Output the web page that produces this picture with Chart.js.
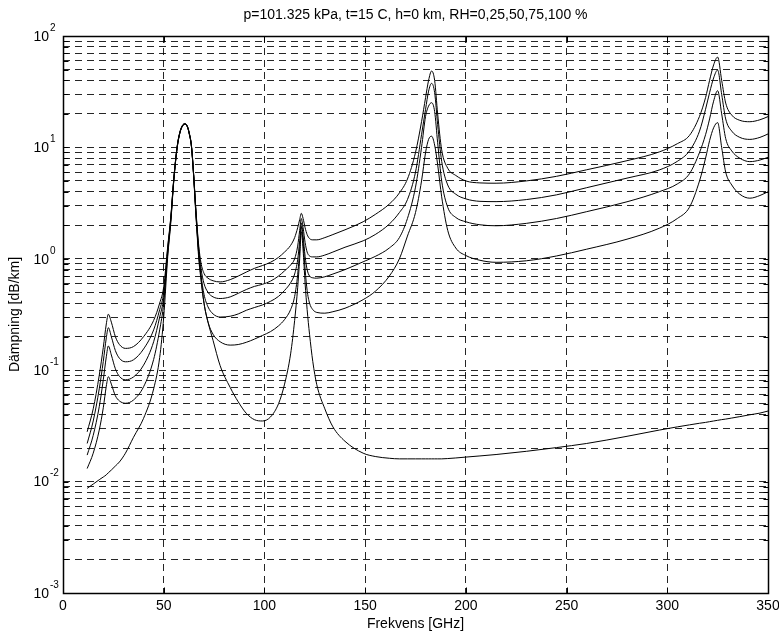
<!DOCTYPE html>
<html><head><meta charset="utf-8">
<script src="https://cdn.jsdelivr.net/npm/chart.js@4.4.1/dist/chart.umd.min.js"></script>
<style>html,body{margin:0;padding:0;background:#fff}#wrap{width:779px;height:633px;position:relative}</style>
</head><body><div id="wrap"><canvas id="c" width="779" height="633"></canvas></div>
<script>
const FONT = "'Liberation Sans', Arial, Helvetica, sans-serif";
const titleText = 'p=101.325 kPa, t=15 C, h=0 km, RH=0,25,50,75,100 %';
const xLabel = 'Frekvens [GHz]';
const yLabel = 'Dämpning [dB/km]';
const xTicks = [0, 50, 100, 150, 200, 250, 300, 350];
const yDecades = [-3, -2, -1, 0, 1, 2];
const seriesNames = ['RH=0 %', 'RH=25 %', 'RH=50 %', 'RH=75 %', 'RH=100 %'];

const freqs = [12,15,18,20,21.5,22.5,24,26,28,31,35,40,45,48,50,
  52,53.5,55,56.7,58,59.3,60.5,61.7,62.6,63.8,65,65.7,66.3,67.4,
  68.5,70,72,74.5,78,83,87,91,95,99,103,107,110,113,115,116.5,117.5,118.3,119.2,120.2,
  121.2,122.4,124,126,130,134,140,149,155,162,167,171,175,178,180,181.5,183,184.5,186,188,
  191,195,200,207,215,230,245,260,280,296,305,311,316,319,321,323,325,327,329,332,336,341,346,350];

const rh0 = [0.0087,0.0095,0.0104,0.011,0.0115,0.012,0.0127,0.0138,0.015,0.018,0.025,0.037,0.068,0.13,0.3,
  1.05,2.1,5.0,10,13.4,15.5,16.1,15.3,13.4,10,5,3,2,1.0,
  0.65,0.4,0.27,0.185,0.11,0.07,0.052,0.041,0.036,0.035,0.038,0.05,0.075,0.14,0.28,0.55,1.0,1.75,1.2,0.6,
  0.35,0.21,0.12,0.074,0.045,0.031,0.023,0.018,0.0168,0.0162,0.016,0.016,0.016,0.016,0.016,0.016,0.016,0.016,0.016,0.016,
  0.0161,0.0163,0.0166,0.017,0.0175,0.0187,0.0202,0.022,0.0255,0.029,0.031,0.0323,0.0334,0.034,0.0345,0.035,0.0355,0.036,0.0364,0.0372,0.0383,0.0398,0.0412,0.043];

const rh25 = [0.0131,0.018,0.029,0.046,0.072,0.0875,0.075,0.059,0.053,0.0505,0.054,0.071,0.125,0.23,0.4,
  1.12,2.18,5.08,10.05,13.45,15.55,16.15,15.35,13.45,10.05,5.08,3.08,2.07,1.08,
  0.68,0.4,0.27,0.21,0.18,0.168,0.17,0.178,0.19,0.205,0.222,0.25,0.285,0.35,0.46,0.72,1.2,1.95,1.4,0.8,
  0.52,0.4,0.35,0.33,0.325,0.335,0.36,0.43,0.51,0.7,1.0,1.6,2.6,5,9,11.8,12.6,10.5,7,3.6,
  1.8,1.25,1.07,0.97,0.93,0.96,1.06,1.22,1.5,1.88,2.3,2.9,5.0,8,11.5,15,16.7,10,6,4.6,3.8,3.5,3.7,4.0];

const rh50 = [0.0173,0.026,0.047,0.082,0.132,0.165,0.137,0.103,0.088,0.082,0.087,0.111,0.18,0.3,0.45,
  1.18,2.25,5.15,10.1,13.5,15.6,16.2,15.4,13.5,10.1,5.15,3.15,2.12,1.14,
  0.72,0.48,0.37,0.32,0.3,0.305,0.32,0.345,0.365,0.385,0.415,0.46,0.52,0.61,0.73,0.98,1.45,2.1,1.6,1.05,
  0.8,0.7,0.675,0.67,0.69,0.73,0.8,0.94,1.05,1.25,1.55,2.3,4.4,10,19,23.5,25.2,21,11,5,
  2.9,2.35,2.15,2.02,1.98,2.08,2.3,2.65,3.25,4.0,4.7,5.8,9,13,18,26,32.3,20,12,9.3,8,7.45,7.7,8.15];

const rh75 = [0.022,0.035,0.068,0.12,0.195,0.241,0.2,0.15,0.128,0.119,0.124,0.155,0.23,0.35,0.5,
  1.25,2.3,5.2,10.2,13.6,15.7,16.3,15.5,13.6,10.2,5.2,3.22,2.2,1.22,
  0.82,0.6,0.5,0.455,0.44,0.455,0.49,0.53,0.565,0.59,0.63,0.7,0.78,0.88,1.0,1.3,1.8,2.3,1.9,1.4,
  1.15,1.06,1.04,1.04,1.08,1.15,1.27,1.45,1.65,2.05,2.6,3.4,6,13,22,32,37.6,31,16,7.5,
  4.6,3.8,3.45,3.28,3.26,3.4,3.75,4.35,5.3,6.27,7.5,9.3,14,22,31,42,49.5,30,18,14,12.3,11.8,12.3,13.2];

const rh100 = [0.028,0.045,0.09,0.16,0.26,0.318,0.27,0.2,0.17,0.157,0.163,0.2,0.28,0.4,0.56,
  1.3,2.35,5.25,10.3,13.7,15.8,16.4,15.6,13.7,10.3,5.25,3.28,2.28,1.3,
  0.92,0.74,0.67,0.635,0.62,0.65,0.7,0.76,0.82,0.87,0.93,1.03,1.15,1.32,1.55,1.9,2.25,2.56,2.3,1.9,
  1.65,1.52,1.48,1.48,1.55,1.65,1.82,2.15,2.5,3.1,3.9,5.2,9,17,28,40,48.5,40,20,9.5,
  6.5,5.6,5.0,4.8,4.77,5.0,5.5,6.3,7.6,9.1,10.8,12.8,19,28,40,55,64.7,40,25,19.5,17.5,17,17.7,18.9];

const seriesList = [rh0, rh25, rh50, rh75, rh100];

const yTickValues = [];
for (const e of yDecades) {
  if (e === yDecades[yDecades.length - 1]) { yTickValues.push(Math.pow(10, e)); break; }
  for (let m = 1; m <= 9; m++) yTickValues.push(parseFloat((m * Math.pow(10, e)).toPrecision(3)));
}

const matlabAxes = {
  id: 'matlabAxes',
  afterDraw(chart) {
    const ctx = chart.ctx;
    const a = chart.chartArea;
    const xs = chart.scales.x, ys = chart.scales.y;
    ctx.save();
    ctx.strokeStyle = '#000';
    ctx.lineWidth = 1;
    ctx.beginPath();
    const L = Math.round(a.left) + 0.5, R = Math.round(a.right) + 0.5;
    const T = Math.round(a.top) + 0.5, B = Math.round(a.bottom) + 0.5;
    for (const v of yTickValues) {
      const y = Math.round(ys.getPixelForValue(v)) + 0.5;
      ctx.moveTo(L, y); ctx.lineTo(L + 5, y);
      ctx.moveTo(R, y); ctx.lineTo(R - 5, y);
    }
    for (const v of xTicks) {
      const x = Math.round(xs.getPixelForValue(v)) + 0.5;
      ctx.moveTo(x, B); ctx.lineTo(x, B - 6);
      ctx.moveTo(x, T); ctx.lineTo(x, T + 6);
    }
    ctx.stroke();
    ctx.lineWidth = 1.5;
    ctx.strokeRect(L, T, R - L, B - T);
    ctx.fillStyle = '#000';
    // title centred over the axes
    ctx.font = '14px ' + FONT;
    ctx.textAlign = 'center';
    ctx.textBaseline = 'middle';
    ctx.fillText(titleText, (a.left + a.right) / 2, 15);
    // y labels 10^n
    for (const e of yDecades) {
      const y = ys.getPixelForValue(Math.pow(10, e));
      ctx.font = '14px ' + FONT;
      ctx.textAlign = 'right';
      ctx.textBaseline = 'middle';
      ctx.fillText('10', a.left - 14, y + 1);
      ctx.font = '10px ' + FONT;
      ctx.textAlign = 'left';
      ctx.fillText(String(e), a.left - 13, y - 8);
    }
    ctx.restore();
  }
};

new Chart(document.getElementById('c'), {
  type: 'line',
  data: {
    datasets: seriesList.map((arr, k) => ({
      label: seriesNames[k],
      data: freqs.map((f, i) => ({ x: f, y: arr[i] })),
      borderColor: '#000',
      borderWidth: 1,
      pointRadius: 0,
      fill: false,
      cubicInterpolationMode: 'monotone'
    }))
  },
  options: {
    responsive: false,
    animation: false,
    devicePixelRatio: 1,
    layout: { padding: { right: 11, left: 0, top: 36, bottom: 0 } },
    plugins: {
      legend: { display: false },
      tooltip: { enabled: false },
      title: { display: false }
    },
    scales: {
      x: {
        type: 'linear', min: 0, max: 350,
        afterBuildTicks: s => { s.ticks = xTicks.map(v => ({ value: v })); },
        afterFit: s => { s.height = 40; s.paddingLeft = 0; s.paddingRight = 0; },
        ticks: { autoSkip: false, maxRotation: 0, color: '#000', padding: 5, font: { family: FONT, size: 14 } },
        grid: { color: 'rgba(0,0,0,0.85)', lineWidth: 1, drawTicks: false },
        border: { display: false, dash: [7, 5] },
        title: { display: true, text: xLabel, color: '#000', font: { family: FONT, size: 14 }, padding: { top: 0, bottom: 0 } }
      },
      y: {
        type: 'logarithmic', min: 0.001, max: 100,
        afterBuildTicks: s => { s.ticks = yTickValues.map(v => ({ value: v })); },
        afterFit: s => { s.width = 63; s.paddingTop = 0; s.paddingBottom = 0; },
        ticks: { display: false, autoSkip: false },
        grid: { color: 'rgba(0,0,0,0.85)', lineWidth: 1, drawTicks: false },
        border: { display: false, dash: [7, 5] },
        title: { display: true, text: yLabel, color: '#000', font: { family: FONT, size: 14 }, padding: { top: 7, bottom: 0 } }
      }
    }
  },
  plugins: [matlabAxes]
});
</script>
</body></html>
